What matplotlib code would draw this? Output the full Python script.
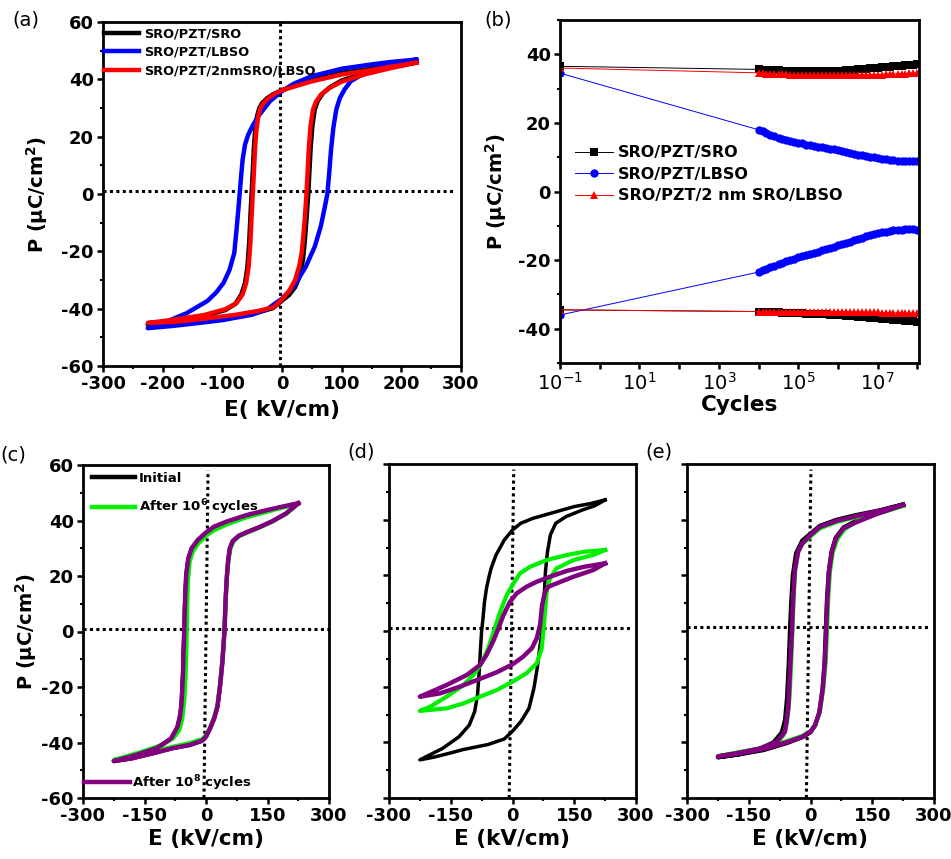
import matplotlib
matplotlib.use("Agg")
import matplotlib.pyplot as plt
from matplotlib.ticker import MultipleLocator, FixedLocator, NullFormatter
from matplotlib.lines import Line2D

plt.rcParams['font.family'] = ['DejaVu Sans']
plt.rcParams['axes.unicode_minus'] = False

# ---------------- (a) P-E loops of the three stacks ----------------
a_sro_E = [225, 180, 140, 100, 50, 0, -15, -25, -33, -38, -42, -45, -47, -49, -51, -53, -55, -58, -62, -68, -78, -95, -130, -180, -225,
           -180, -130, -80, -40, -15, 0, 12, 22, 30, 35, 38, 41, 44, 46, 48, 51, 55, 60, 68, 80, 100, 140, 180, 225]
a_sro_P = [46.3, 44.9, 43.4, 42.3, 39.9, 36.2, 34.8, 33.4, 31.8, 30.0, 27.0, 22.0, 16.6, 8.0, 0.0, -8.0, -17.0, -25.5, -31.0, -35.0, -38.3, -40.5, -42.5, -44.3, -45.6,
           -45.0, -43.9, -42.7, -41.3, -39.8, -37.2, -35.2, -32.5, -28.5, -23.0, -17.0, -9.0, 0.0, 8.0, 16.0, 24.0, 29.5, 32.5, 35.0, 37.2, 39.6, 42.3, 44.3, 46.3]

a_lbso_E = [225, 180, 150, 100, 50, 20, 0, -20, -40, -50, -57, -62, -66, -69, -71, -73, -76, -80, -88, -98, -110, -125, -160, -190, -225,
            -182, -140, -100, -50, -25, 0, 20, 40, 55, 65, 72, 76, 79, 82, 86, 91, 97, 105, 115, 140, 180, 225]
a_lbso_P = [46.9, 46.0, 45.2, 43.7, 41.1, 38.5, 35.9, 32.4, 27.1, 23.5, 20.5, 17.2, 12.0, 5.0, 0.0, -5.0, -12.0, -20.6, -26.5, -31.0, -34.3, -37.3, -41.6, -44.2, -46.8,
            -46.0, -45.0, -44.0, -42.1, -40.2, -36.5, -32.2, -25.3, -18.3, -11.3, -4.3, 0.0, 7.0, 15.0, 23.0, 29.5, 33.5, 36.5, 39.3, 42.4, 45.0, 46.9]

a_2nm_E = [225, 180, 140, 100, 50, 0, -15, -25, -32, -37, -40, -43, -45, -47, -49, -51, -53, -56, -60, -66, -76, -95, -130, -180, -225,
           -180, -130, -80, -40, -14, 0, 12, 22, 29, 33, 36, 38, 41, 43, 45, 48, 52, 57, 65, 78, 100, 140, 180, 225]
a_2nm_P = [45.8, 44.3, 42.9, 41.7, 39.3, 36.2, 34.6, 33.0, 31.4, 29.6, 26.8, 22.0, 16.6, 8.0, 0.0, -8.0, -17.0, -25.5, -31.0, -35.0, -38.0, -40.2, -42.2, -43.8, -45.0,
           -44.6, -43.5, -42.2, -40.8, -39.5, -36.8, -33.8, -30.0, -25.0, -20.6, -14.0, -9.0, 0.0, 8.0, 16.0, 24.0, 29.5, 32.2, 34.6, 36.8, 39.2, 41.8, 43.8, 45.8]

a_labels = ["SRO/PZT/SRO", "SRO/PZT/LBSO", "SRO/PZT/2nmSRO/LBSO"]

# ---------------- (b) fatigue: switchable P vs cycles ----------------
cycles = [0.1,
          1.0e4, 1.26e4, 1.58e4, 2.0e4, 2.5e4, 3.2e4, 4.0e4, 5.0e4, 6.3e4, 7.9e4,
          1.0e5, 1.26e5, 1.58e5, 2.0e5, 2.5e5, 3.2e5, 4.0e5, 5.0e5, 6.3e5, 7.9e5,
          1.0e6, 1.26e6, 1.58e6, 2.0e6, 2.5e6, 3.2e6, 4.0e6, 5.0e6, 6.3e6, 7.9e6,
          1.0e7, 1.26e7, 1.58e7, 2.0e7, 2.5e7, 3.2e7, 4.0e7, 5.0e7, 6.3e7, 7.9e7,
          1.0e8]
sro_pos = [36.5,
           35.6, 35.5, 35.4, 35.4, 35.3, 35.3, 35.2, 35.2, 35.1, 35.1,
           35.0, 35.0, 35.0, 35.0, 35.0, 35.0, 35.0, 35.0, 35.1, 35.1,
           35.2, 35.2, 35.3, 35.4, 35.5, 35.6, 35.7, 35.8, 35.9, 36.0,
           36.1, 36.2, 36.3, 36.4, 36.5, 36.6, 36.7, 36.8, 36.9, 37.0,
           37.1]
sro_neg = [-34.5,
           -35.0, -35.0, -35.1, -35.1, -35.2, -35.2, -35.3, -35.3, -35.4, -35.4,
           -35.5, -35.5, -35.6, -35.6, -35.7, -35.7, -35.8, -35.8, -35.9, -35.9,
           -36.0, -36.1, -36.2, -36.3, -36.4, -36.5, -36.6, -36.7, -36.8, -36.9,
           -37.0, -37.1, -37.2, -37.3, -37.4, -37.5, -37.6, -37.7, -37.8, -37.9,
           -38.0]
lbso_pos = [34.5,
            18.0, 17.5, 17.0, 16.5, 16.1, 15.7, 15.3, 15.0, 14.7, 14.4,
            14.2, 14.0, 13.7, 13.5, 13.3, 13.1, 12.9, 12.7, 12.5, 12.3,
            12.1, 11.8, 11.5, 11.2, 11.0, 10.7, 10.5, 10.3, 10.1, 10.0,
            9.8, 9.6, 9.4, 9.3, 9.1, 9.0, 8.9, 8.9, 8.9, 8.9,
            9.0]
lbso_neg = [-36.0,
            -23.5, -23.0, -22.5, -22.0, -21.6, -21.2, -20.8, -20.4, -20.0, -19.6,
            -19.2, -18.9, -18.6, -18.3, -18.0, -17.6, -17.2, -16.9, -16.5, -16.1,
            -15.7, -15.3, -15.0, -14.6, -14.2, -13.9, -13.5, -13.1, -12.8, -12.5,
            -12.2, -11.9, -11.7, -11.5, -11.3, -11.2, -11.1, -11.0, -11.0, -11.0,
            -11.1]
nm2_pos = [36.0,
           34.6, 34.5, 34.4, 34.4, 34.3, 34.3, 34.2, 34.2, 34.1, 34.1,
           34.0, 34.0, 34.0, 34.0, 34.0, 34.0, 34.0, 34.0, 34.0, 34.0,
           34.0, 34.0, 34.0, 34.0, 34.0, 34.0, 34.0, 34.0, 34.0, 34.0,
           34.1, 34.1, 34.2, 34.2, 34.3, 34.3, 34.4, 34.4, 34.5, 34.5,
           34.5]
nm2_neg = [-34.5,
           -35.0, -35.0, -35.0, -35.0, -35.0, -35.0, -35.0, -35.0, -35.0, -35.0,
           -35.0, -35.0, -35.0, -35.0, -35.0, -35.0, -35.0, -35.0, -35.0, -35.0,
           -35.0, -35.0, -35.0, -35.0, -35.1, -35.1, -35.1, -35.1, -35.2, -35.2,
           -35.2, -35.3, -35.3, -35.3, -35.4, -35.4, -35.4, -35.5, -35.5, -35.5,
           -35.5]
b_labels = ["SRO/PZT/SRO", "SRO/PZT/LBSO", "SRO/PZT/2 nm SRO/LBSO"]
b_xticks = [1e-1, 1e0, 1e1, 1e2, 1e3, 1e4, 1e5, 1e6, 1e7, 1e8]
b_xticklabels = [r"$10^{-1}$", "", r"$10^{1}$", "", r"$10^{3}$", "", r"$10^{5}$", "", r"$10^{7}$", ""]

# ---------------- (c) SRO/PZT/SRO before / after cycling ----------------
c_init_E = [225, 180, 150, 100, 50, 20, 0, -20, -35, -43, -48, -50, -52, -53, -55, -56, -58, -60, -64, -70, -85, -120, -170, -225,
            -180, -130, -80, -40, -10, 0, 10, 20, 28, 34, 40, 45, 48, 51, 54, 58, 65, 80, 100, 130, 160, 195, 225]
c_init_P = [46.2, 44.6, 43.6, 41.8, 39.4, 37.5, 35.5, 32.8, 29.8, 26.2, 20.5, 15.0, 7.0, 0.0, -8.0, -14.5, -21.0, -26.5, -31.0, -34.7, -38.7, -42.2, -44.7, -46.7,
            -45.7, -43.9, -42.0, -40.9, -39.4, -37.9, -34.9, -31.3, -27.0, -20.0, -10.9, 0.0, 11.9, 20.0, 25.5, 29.9, 32.5, 34.5, 35.8, 37.6, 39.6, 42.5, 46.2]
c_1e6_E = [225, 180, 150, 100, 50, 20, 0, -20, -33, -40, -44, -46, -47, -48, -50, -53, -58, -65, -80, -110, -160, -225,
           -180, -130, -80, -40, -10, 0, 10, 20, 28, 34, 40, 45, 48, 51, 55, 60, 67, 80, 100, 130, 160, 195, 225]
c_1e6_P = [46.0, 44.4, 43.2, 41.2, 38.5, 36.5, 34.5, 31.5, 28.5, 25.0, 18.0, 8.0, 0.0, -8.0, -17.0, -25.0, -31.5, -35.5, -38.5, -41.0, -43.5, -46.3,
           -45.0, -43.3, -41.5, -40.2, -38.8, -37.5, -34.5, -30.8, -26.5, -19.5, -10.5, 0.0, 12.0, 20.0, 26.0, 30.0, 32.5, 34.3, 35.6, 37.4, 39.5, 42.3, 46.0]
c_1e8_E = [225, 180, 150, 100, 50, 20, 0, -20, -35, -43, -48, -50, -52, -53, -55, -56, -58, -60, -64, -70, -85, -120, -170, -225,
           -180, -130, -80, -40, -10, 0, 10, 20, 28, 34, 40, 45, 48, 51, 54, 58, 65, 80, 100, 130, 160, 195, 225]
c_1e8_P = [46.2, 44.8, 43.8, 42.0, 39.6, 37.8, 35.7, 33.0, 30.0, 26.5, 21.0, 15.6, 7.0, 0.0, -8.0, -14.5, -21.0, -26.5, -31.0, -34.5, -38.5, -42.0, -44.5, -46.7,
           -45.7, -43.9, -42.0, -40.9, -39.4, -37.9, -34.9, -31.3, -27.0, -20.0, -10.9, 0.0, 11.9, 20.0, 25.5, 29.9, 32.5, 34.5, 35.8, 37.6, 39.6, 42.5, 46.2]

# ---------------- (d) SRO/PZT/LBSO before / after cycling ----------------
d_init_E = [225, 190, 150, 100, 50, 20, 0, -20, -40, -52, -58, -63, -68, -72, -75, -78, -81, -85, -92, -105, -130, -170, -225,
            -190, -150, -120, -60, -20, 0, 20, 40, 52, 60, 66, 72, 76, 80, 85, 92, 105, 130, 170, 200, 225]
d_init_P = [47.1, 45.8, 44.7, 42.6, 40.5, 38.7, 36.3, 32.7, 27.3, 22.5, 18.9, 15.5, 10.5, 4.0, 0.0, -7.0, -15.0, -23.0, -29.0, -33.8, -38.0, -42.2, -46.3,
            -45.3, -43.8, -42.6, -40.8, -38.8, -36.0, -32.6, -27.8, -20.6, -13.4, -6.2, 0.0, 9.3, 21.3, 28.5, 34.5, 38.7, 41.1, 43.5, 45.0, 47.1]
d_1e6_E = [225, 175, 132, 83, 43, 18, 0, -14, -30, -43, -59, -75, -95, -119, -160, -200, -225,
           -160, -119, -79, -38, 0, 34, 59, 71, 75, 79, 83, 91, 107, 148, 196, 225]
d_1e6_P = [29.1, 28.5, 27.3, 25.5, 23.1, 20.7, 16.5, 12.9, 6.9, 1.0, -6.2, -11.6, -15.8, -19.4, -23.6, -27.2, -28.7,
           -27.8, -26.0, -23.6, -21.2, -18.2, -15.2, -11.6, -6.2, -0.2, 7.0, 14.1, 18.9, 22.5, 25.5, 27.3, 29.1]
d_1e8_E = [225, 175, 132, 91, 59, 34, 10, -6, -22, -34, -47, -63, -79, -111, -160, -200, -225,
           -176, -128, -79, -38, 0, 26, 47, 59, 67, 72, 79, 87, 107, 148, 196, 225]
d_1e8_P = [24.3, 23.1, 21.6, 19.5, 17.7, 15.9, 13.5, 10.5, 5.7, 1.0, -3.7, -8.6, -12.2, -15.8, -19.4, -22.0, -23.6,
           -22.4, -20.0, -17.2, -14.8, -12.0, -9.2, -6.2, -2.6, 2.2, 9.3, 14.1, 15.9, 17.1, 19.5, 21.9, 24.3]

# ---------------- (e) SRO/PZT/2 nm SRO/LBSO before / after cycling ----------------
e_init_E = [225, 200, 169, 112, 64, 23, 0, -20, -35, -43, -47, -50, -53, -57, -62, -70, -90, -130, -175, -225,
            -171, -114, -58, -20, 0, 11, 21, 29, 34, 37, 40, 44, 51, 61, 80, 110, 160, 200, 225]
e_init_P = [45.5, 44.6, 43.4, 41.7, 40.0, 37.8, 35.0, 32.5, 28.0, 20.0, 10.0, 0.0, -12.0, -24.0, -32.0, -36.5, -40.0, -42.8, -44.3, -45.4,
            -44.3, -42.8, -40.3, -38.2, -36.4, -34.0, -29.5, -21.0, -11.5, 0.0, 11.5, 21.0, 28.5, 33.5, 37.2, 39.5, 42.2, 44.2, 45.5]
e_1e6_E = [225, 200, 169, 112, 64, 23, 0, -20, -30, -37, -41, -44, -47, -51, -57, -66, -85, -125, -175, -225,
           -171, -114, -58, -20, 0, 12, 23, 31, 37, 40, 43, 47, 54, 65, 83, 113, 162, 200, 225]
e_1e6_P = [45.0, 44.0, 42.8, 41.0, 39.2, 36.9, 34.0, 31.2, 28.5, 22.0, 12.0, 0.0, -12.0, -24.0, -33.0, -37.5, -40.5, -42.3, -43.6, -45.0,
           -43.6, -42.0, -39.6, -37.7, -36.0, -33.6, -28.8, -20.5, -11.0, 0.0, 11.7, 21.0, 28.2, 33.0, 36.6, 39.4, 42.1, 43.8, 45.0]
e_1e8_E = [225, 200, 169, 112, 64, 23, 0, -20, -30, -38, -42, -45, -50, -54, -62, -82, -123, -171, -225,
           -171, -114, -58, -20, 0, 11, 22, 30, 35, 38, 41, 45, 52, 62, 80, 110, 160, 200, 225]
e_1e8_P = [45.3, 44.3, 43.3, 41.3, 39.6, 37.4, 34.5, 31.5, 28.5, 22.0, 12.0, 0.0, -14.6, -27.8, -36.2, -39.8, -42.2, -43.7, -45.1,
           -44.0, -42.4, -40.0, -38.0, -36.2, -33.8, -29.0, -20.6, -11.0, 0.0, 11.7, 21.3, 28.5, 33.3, 36.9, 39.0, 42.0, 44.0, 45.3]

cyc_labels = ["Initial", r"After 10$^{\mathbf{6}}$ cycles", r"After 10$^{\mathbf{8}}$ cycles"]

# dotted guide lines (E-axis / P-axis markers drawn by hand in the original)
a_vguide = ([-3, -3], [-60, 60]); a_hguide = ([-300, 290], [1.2, 1.2])
c_vguide = ([-5, 5], [-60, 58]); c_hguide = ([-300, 300], [0.9, 0.9])
d_vguide = ([-8, 3], [-60, 58]); d_hguide = ([-300, 285], [1.2, 1.2])
e_vguide = ([-10, 1], [-60, 58]); e_hguide = ([-300, 290], [1.3, 1.3])

BLACK, BLUE, RED = "#000000", "#0000FF", "#FF0000"
GREEN, PURPLE = "#00F000", "#800080"

W, H = 951, 859
fig = plt.figure(figsize=(W / 100, H / 100), dpi=100)


def add_ax(left, top, right, bottom):
    return fig.add_axes([left / W, 1 - bottom / H, (right - left) / W, (bottom - top) / H])


def style(ax, xmaj, xmin, ylab=True):
    for s in ax.spines.values():
        s.set_linewidth(2.0)
    ax.tick_params(which="both", direction="out", top=False, right=False, width=1.8)
    ax.tick_params(which="major", length=4.5, labelsize=13, pad=2)
    ax.tick_params(which="minor", length=2.5, width=1.5)
    ax.set_xlim(-300, 300)
    ax.set_ylim(-60, 60)
    ax.xaxis.set_major_locator(MultipleLocator(xmaj))
    ax.xaxis.set_minor_locator(MultipleLocator(xmin))
    ax.yaxis.set_major_locator(MultipleLocator(20))
    ax.yaxis.set_minor_locator(MultipleLocator(10))
    for t in ax.get_xticklabels() + ax.get_yticklabels():
        t.set_fontweight("bold")
    if not ylab:
        ax.yaxis.set_major_formatter(NullFormatter())


def guides(ax, vg, hg):
    ax.plot(vg[0], vg[1], color="k", lw=2.2, ls=(0, (1, 1.1)), zorder=1)
    ax.plot(hg[0], hg[1], color="k", lw=2.2, ls=(0, (1, 1.1)), zorder=1)


ylab_txt = r"P (μC/cm$^{\mathbf{2}}$)"

# ---- (a)
ax = add_ax(103, 22, 461, 366)
style(ax, 100, 50)
guides(ax, a_vguide, a_hguide)
ax.plot(a_sro_E, a_sro_P, color=BLACK, lw=3.2, label=a_labels[0])
ax.plot(a_lbso_E, a_lbso_P, color=BLUE, lw=3.2, label=a_labels[1])
ax.plot(a_2nm_E, a_2nm_P, color=RED, lw=3.2, label=a_labels[2])
ax.set_xlabel("E( kV/cm)", fontsize=15.5, fontweight="bold", labelpad=5)
ax.set_ylabel(ylab_txt, fontsize=14, fontweight="bold", labelpad=8)
ax.legend(loc="upper left", bbox_to_anchor=(0.004, 0.984), frameon=False, borderpad=0, borderaxespad=0,
          prop={"weight": "bold", "size": 9.3}, handlelength=2.7, handletextpad=0.4, labelspacing=0.42)

# ---- (b)
ax = add_ax(560, 20, 919, 363)
for s in ax.spines.values():
    s.set_linewidth(2.0)
ax.set_xscale("log")
ax.set_xlim(0.1, 1.1e8)
ax.set_ylim(-50, 50)
ax.plot(cycles, sro_pos, color=BLACK, lw=0.7, marker="s", ms=5.5, mew=0, label=b_labels[0])
ax.plot(cycles, sro_neg, color=BLACK, lw=0.7, marker="s", ms=5.5, mew=0)
ax.plot(cycles, lbso_pos, color=BLUE, lw=0.7, marker="o", ms=6, mew=0, label=b_labels[1])
ax.plot(cycles, lbso_neg, color=BLUE, lw=0.7, marker="o", ms=6, mew=0)
ax.plot(cycles, nm2_pos, color=RED, lw=0.7, marker="^", ms=6, mew=0, label=b_labels[2])
ax.plot(cycles, nm2_neg, color=RED, lw=0.7, marker="^", ms=6, mew=0)
ax.xaxis.set_major_locator(FixedLocator(b_xticks))
ax.set_xticklabels(b_xticklabels)
ax.xaxis.set_minor_locator(FixedLocator([]))
ax.yaxis.set_major_locator(MultipleLocator(20))
ax.yaxis.set_minor_locator(MultipleLocator(10))
ax.tick_params(which="both", direction="out", top=False, right=False, width=1.8)
ax.tick_params(which="major", length=4.5, pad=2)
ax.tick_params(axis="x", which="major", labelsize=14)
ax.tick_params(axis="y", which="major", labelsize=13)
ax.tick_params(which="minor", length=2.5, width=1.5)
for t in ax.get_yticklabels():
    t.set_fontweight("bold")
ax.set_xlabel("Cycles", fontsize=15.5, fontweight="bold", labelpad=1)
ax.set_ylabel(ylab_txt, fontsize=14, fontweight="bold", labelpad=7)
ax.legend(loc="center left", bbox_to_anchor=(0.042, 0.55), frameon=False, borderpad=0, borderaxespad=0,
          prop={"weight": "bold", "size": 11.5}, handlelength=2.4, handletextpad=0.3, labelspacing=0.4)

# ---- (c), (d), (e)
panels = [
    ((83, 465, 329, 798), (c_init_E, c_init_P), (c_1e6_E, c_1e6_P), (c_1e8_E, c_1e8_P), c_vguide, c_hguide, True, 3.0),
    ((389, 464, 636, 798), (d_init_E, d_init_P), (d_1e6_E, d_1e6_P), (d_1e8_E, d_1e8_P), d_vguide, d_hguide, False, 2.5),
    ((687, 464, 934, 798), (e_init_E, e_init_P), (e_1e6_E, e_1e6_P), (e_1e8_E, e_1e8_P), e_vguide, e_hguide, False, 3.0),
]
axes_low = []
for box, ini, m6, m8, vg, hg, ylab, lw0 in panels:
    ax = add_ax(*box)
    style(ax, 150, 75, ylab)
    guides(ax, vg, hg)
    ax.plot(ini[0], ini[1], color=BLACK, lw=lw0)
    ax.plot(m6[0], m6[1], color=GREEN, lw=3.0)
    ax.plot(m8[0], m8[1], color=PURPLE, lw=3.2)
    ax.set_xlabel("E (kV/cm)", fontsize=15.5, fontweight="bold", labelpad=3)
    if ylab:
        ax.set_ylabel(ylab_txt, fontsize=14, fontweight="bold", labelpad=2)
    axes_low.append(ax)

axc = axes_low[0]
h1 = [Line2D([], [], color=BLACK, lw=3.2), Line2D([], [], color=GREEN, lw=3.2)]
leg1 = axc.legend(h1, cyc_labels[:2], loc="upper left", bbox_to_anchor=(0.037, 0.98), frameon=False,
                  borderpad=0, borderaxespad=0, prop={"weight": "bold", "size": 9.5},
                  handlelength=3.25, handletextpad=0.3, labelspacing=1.0)
axc.add_artist(leg1)
axc.legend([Line2D([], [], color=PURPLE, lw=3.2)], cyc_labels[2:], loc="center left", bbox_to_anchor=(0.004, 0.045),
           frameon=False, borderpad=0, borderaxespad=0, prop={"weight": "bold", "size": 9.5},
           handlelength=3.5, handletextpad=0.15)

# panel letters
for lab, x, y in [("(a)", 12, 20), ("(b)", 484, 20), ("(c)", 0, 455), ("(d)", 347, 452), ("(e)", 645, 452)]:
    fig.text(x / W, 1 - y / H, lab, fontsize=14, ha="left", va="center")

fig.savefig("out.png", dpi=100)
